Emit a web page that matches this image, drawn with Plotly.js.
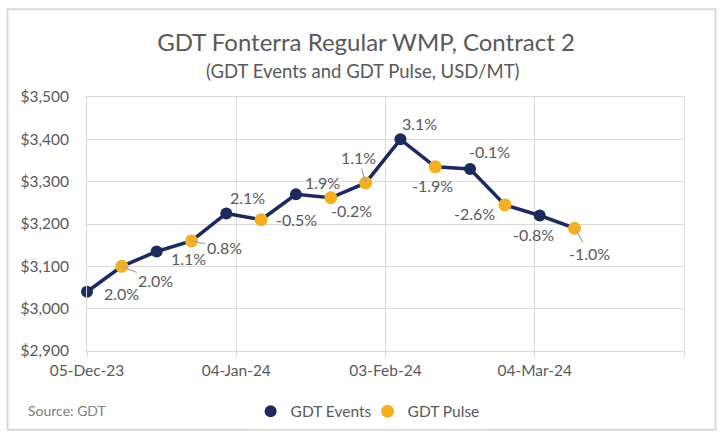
<!DOCTYPE html>
<html>
<head>
<meta charset="utf-8">
<script src="https://cdn.plot.ly/plotly-3.0.1.min.js"></script>
<style>
  body { margin: 0; background: #ffffff; }
  #grafica { width: 726px; height: 440px; }
</style>
</head>
<body>
<div id="grafica"></div>
<script>
// GDT Fonterra Regular WMP, Contract 2 - eventos y pulsos

var eventDates  = ['2023-12-05', '2023-12-19', '2024-01-02', '2024-01-16', '2024-02-06', '2024-02-20', '2024-03-05'];
var eventValues = [3040, 3135, 3225, 3270, 3400, 3330, 3220];
var eventLabels = ['2.0%', '1.1%', '2.1%', '1.9%', '3.1%', '-0.1%', '-0.8%'];

var pulseDates  = ['2023-12-12', '2023-12-26', '2024-01-09', '2024-01-23', '2024-01-30', '2024-02-13', '2024-02-27', '2024-03-12'];
var pulseValues = [3100, 3160, 3210, 3262, 3297, 3335, 3245, 3190];
var pulseLabels = ['2.0%', '0.8%', '-0.5%', '-0.2%', '1.1%', '-1.9%', '-2.6%', '-1.0%'];

var tickDates  = ['2023-12-05', '2024-01-04', '2024-02-03', '2024-03-04', '2024-04-03'];
var tickLabels = ['05-Dec-23', '04-Jan-24', '03-Feb-24', '04-Mar-24', ''];

// posicion de cada etiqueta respecto al punto (px: derecha, abajo), y si lleva linea guia
var eventLabelPos = [[34, 2, 0], [32, 7, 0], [21, -16, 0], [27, -12, 0], [19, -16, 0], [19, -17, 0], [-6, 19, 0]];
var pulseLabelPos = [[34, 14, 1], [33, 7, 1], [35, 0, 0], [21, 13, 0], [-7, -25, 1], [-3, 19, 0], [-30, 9, 0], [15, 25, 1]];

var navy = '#1c2a5e';
var gold = '#f4b022';
var gris = '#595959';
var rejilla = '#d9d9d9';

// linea unica que une eventos y pulsos en orden de fecha
var todos = [];
eventDates.forEach(function(d, i){ todos.push({x: d, y: eventValues[i]}); });
pulseDates.forEach(function(d, i){ todos.push({x: d, y: pulseValues[i]}); });
todos.sort(function(a, b){ return a.x < b.x ? -1 : 1; });

var linea = {
    x: todos.map(function(p){ return p.x; }),
    y: todos.map(function(p){ return p.y; }),
    type: 'scatter',
    mode: 'lines',
    line: {color: navy, width: 3.5},
    cliponaxis: false,
    showlegend: false,
    hoverinfo: 'skip'
};

var eventos = {
    x: eventDates,
    y: eventValues,
    name: 'GDT Events',
    type: 'scatter',
    mode: 'markers',
    cliponaxis: false,
    marker: {color: navy, size: 12}
};

var pulsos = {
    x: pulseDates,
    y: pulseValues,
    name: 'GDT Pulse',
    type: 'scatter',
    mode: 'markers',
    cliponaxis: false,
    marker: {color: gold, size: 13}
};

function etiquetas(fechas, valores, textos, pos){
    return fechas.map(function(d, i){
        var p = pos[i];
        var a = {
            x: d, y: valores[i], xref: 'x', yref: 'y',
            text: textos[i],
            font: {size: 16, color: gris, family: 'Lato'}
        };
        if (p[2]) {
            a.showarrow = true;
            a.ax = p[0]; a.ay = p[1];
            a.arrowhead = 0; a.arrowwidth = 1.3; a.arrowcolor = '#a6a6a6';
            a.standoff = 0;
        } else {
            a.showarrow = false;
            a.xshift = p[0]; a.yshift = -p[1];
        }
        return a;
    });
}

var notas = etiquetas(eventDates, eventValues, eventLabels, eventLabelPos)
    .concat(etiquetas(pulseDates, pulseValues, pulseLabels, pulseLabelPos));

notas.push({
    xref: 'paper', yref: 'paper', x: 0.4623, y: 1.102,
    xanchor: 'center', yanchor: 'middle', showarrow: false,
    text: '(GDT Events and GDT Pulse, USD/MT)',
    font: {size: 18.5, color: gris, family: 'Lato'}
});
notas.push({
    xref: 'paper', yref: 'paper', x: -0.1022, y: -0.234,
    xanchor: 'left', yanchor: 'middle', showarrow: false,
    text: 'Source: GDT',
    font: {size: 14, color: '#808080', family: 'Lato'}
});

var layout = {
    width: 726,
    height: 440,
    margin: {t: 97, b: 88, l: 87, r: 42},
    paper_bgcolor: '#ffffff',
    plot_bgcolor: '#ffffff',
    font: {family: 'Lato', size: 15, color: gris},
    title: {
        text: 'GDT Fonterra Regular WMP, Contract 2',
        font: {size: 24, color: gris, family: 'Lato'},
        x: 366 / 726, xref: 'container', xanchor: 'center',
        y: 1 - 42.5 / 440, yref: 'container', yanchor: 'middle'
    },
    xaxis: {
        type: 'date',
        range: ['2023-12-05', '2024-04-03'],
        tickmode: 'array',
        tickvals: tickDates,
        ticktext: tickLabels,
        ticks: 'outside', ticklen: 5, tickcolor: rejilla,
        showgrid: true, gridcolor: rejilla, gridwidth: 1,
        showline: true, linecolor: rejilla, mirror: true,
        zeroline: false,
        tickfont: {size: 15.5, color: gris}
    },
    yaxis: {
        range: [2900, 3500],
        dtick: 100,
        tickprefix: '$',
        tickformat: ',d',
        ticks: '',
        ticklabelstandoff: 14,
        showgrid: true, gridcolor: rejilla, gridwidth: 1,
        showline: true, linecolor: rejilla, mirror: true,
        zeroline: false,
        tickfont: {size: 15.5, color: gris}
    },
    legend: {
        orientation: 'h',
        x: 0.47, xanchor: 'center',
        y: -0.234, yanchor: 'middle',
        font: {size: 15.5, color: gris},
        itemwidth: 30,
        entrywidth: 72
    },
    annotations: notas,
    shapes: [{
        type: 'rect', xref: 'paper', yref: 'paper',
        x0: -0.1332, x1: 1.0528, y0: -0.3098, y1: 1.345,
        line: {color: rejilla, width: 2}
    }]
};

Plotly.newPlot('grafica', [linea, eventos, pulsos], layout, {displayModeBar: false});
</script>
</body>
</html>
